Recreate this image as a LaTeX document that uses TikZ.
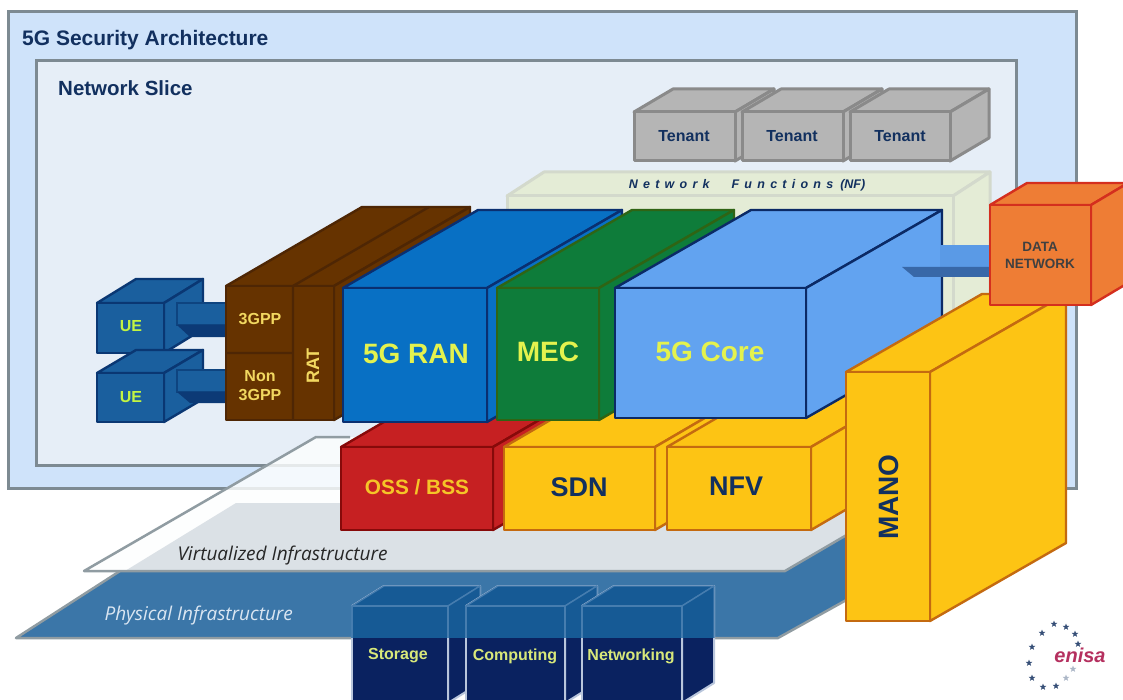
\documentclass[tikz,border=0pt]{standalone}
\usepackage{fontspec}
\setmainfont{Liberation Sans}
\newfontfamily\infrafont{Open Sans}
\newfontfamily\spacedfont[LetterSpace=42]{Liberation Sans}
\usetikzlibrary{shapes.geometric}
\definecolor{outerblue}{HTML}{CFE3FA}
\definecolor{innerblue}{HTML}{E6EEF7}
\definecolor{framegray}{HTML}{7D8A92}
\definecolor{titlenavy}{HTML}{12305F}
\definecolor{lime}{HTML}{E4F24E}
\definecolor{goldtext}{HTML}{F2D860}
\newcommand{\cuboid}[7]{%
    \draw[#1] (#2,#3) -- ++(#6,#7) -- ++(#4-#2,0) -- (#4,#3) -- cycle;
    \draw[#1] (#4,#3) -- ++(#6,#7) -- ++(0,#5-#3) -- (#4,#5) -- cycle;
    \draw[#1] (#2,#3) rectangle (#4,#5);
}
\tikzset{
    solid box/.style={line width=2.4pt,line join=round},
    uecube/.style={solid box,fill={rgb,255:red,26;green,95;blue,158},draw={rgb,255:red,10;green,55;blue,115}},
    uelink/.style={line width=1.2pt,fill={rgb,255:red,26;green,95;blue,158},draw={rgb,255:red,14;green,68;blue,128}},
    uelinkdark/.style={fill={rgb,255:red,12;green,58;blue,118}},
    ratcube/.style={solid box,fill={rgb,255:red,102;green,51;blue,0},draw={rgb,255:red,78;green,38;blue,4}},
    rancube/.style={solid box,fill={rgb,255:red,8;green,112;blue,196},draw={rgb,255:red,10;green,47;blue,112}},
    meccube/.style={solid box,fill={rgb,255:red,14;green,124;blue,58},draw={rgb,255:red,47;green,100;blue,20}},
    corecube/.style={solid box,fill={rgb,255:red,98;green,163;blue,240},draw={rgb,255:red,11;green,42;blue,102}},
    osscube/.style={solid box,fill={rgb,255:red,198;green,32;blue,34},draw={rgb,255:red,135;green,10;blue,10}},
    yellowcube/.style={solid box,fill={rgb,255:red,253;green,196;blue,20},draw={rgb,255:red,196;green,106;blue,16}},
    tenantcube/.style={solid box,line width=3pt,fill={rgb,255:red,181;green,181;blue,181},draw={rgb,255:red,138;green,138;blue,138}},
    nfcube/.style={solid box,line width=3pt,fill={rgb,255:red,228;green,236;blue,214},draw={rgb,255:red,211;green,217;blue,204}},
    datacube/.style={solid box,fill={rgb,255:red,238;green,125;blue,53},draw={rgb,255:red,212;green,47;blue,30}},
    hwcube/.style={line width=2pt,line join=round,fill={rgb,255:red,10;green,34;blue,96},draw={rgb,255:red,185;green,198;blue,220}},
    hwplane/.style={line width=1.4pt,line join=round,fill={rgb,255:red,22;green,90;blue,149},draw={rgb,255:red,70;green,125;blue,175}},
    hwlabel/.style={font=\bfseries\fontsize{16}{18}\selectfont,text={rgb,255:red,216;green,232;blue,122}},
    bigtext/.style={font=\bfseries\fontsize{28}{30}\selectfont,text=lime},
    darktext/.style={font=\bfseries\fontsize{27}{29}\selectfont,text=titlenavy},
    smalltext/.style={font=\bfseries\fontsize{16}{19}\selectfont,text=goldtext,align=center},
    uetext/.style={font=\bfseries\fontsize{16}{18}\selectfont,text=lime!85!green},
    tenanttext/.style={font=\bfseries\fontsize{16}{18}\selectfont,text=titlenavy},
    infratext/.style={font=\infrafont\itshape\fontsize{19}{21}\selectfont,anchor=west},
    enistar/.style={star,star points=5,star point ratio=2.4,fill=#1,inner sep=0pt,minimum size=7pt},
    enistar/.default={titlenavy!85}
}
\begin{document}
\begin{tikzpicture}[x=1pt,y=-1pt]
    \clip (0,0) rectangle (1123,700);
    \fill[white] (0,0) rectangle (1123,700);
    \draw[fill=outerblue,draw=framegray,line width=3pt] (8,12) rectangle (1076,488);
    \draw[fill=innerblue,draw=framegray,line width=3pt] (36,61) rectangle (1016,465);
    \node[anchor=west,font=\bfseries\fontsize{21}{23}\selectfont,text=titlenavy,inner sep=0pt] (archtitle) at (22,40) {5G Security Architecture};
    \node[anchor=west,font=\bfseries\fontsize{20.5}{23}\selectfont,text=titlenavy,inner sep=0pt] (slicetitle) at (58,88) {Network Slice};
    \cuboid{tenantcube}{634}{112}{735}{161}{39}{-23}
    \cuboid{tenantcube}{742}{112}{843}{161}{39}{-23}
    \cuboid{tenantcube}{850}{112}{950}{161}{39}{-23}
    \node[tenanttext] (tenanta) at (684,136) {Tenant};
    \node[tenanttext] (tenantb) at (792,136) {Tenant};
    \node[tenanttext] (tenantc) at (900,136) {Tenant};
    \cuboid{nfcube}{507}{196}{953}{440}{37}{-24}
    \node[font=\bfseries\itshape\fontsize{12.5}{14}\selectfont,text=titlenavy,inner sep=0pt] (nflabel) at (747,185) {{\spacedfont\bfseries\itshape Network}\hspace{22pt}{\spacedfont\bfseries\itshape Functions} \ (NF)};
    \fill[fill={rgb,255:red,59;green,118;blue,168}] (16,638) -- (120,571) -- (785,571) -- (850,533) -- (850,598) -- (778,638) -- cycle;
    \draw[draw=framegray!85,line width=2.5pt,line join=round] (850,598) -- (778,638) -- (16,638) -- (120,571);
    \fill[white!92!innerblue,opacity=.82] (84,571) -- (316,437) -- (850,437) -- (850,533) -- (785,571) -- cycle;
    \fill[fill={rgb,255:red,219;green,225;blue,230}] (125,571) -- (236,503) -- (850,503) -- (850,533) -- (785,571) -- cycle;
    \draw[draw=framegray!85,line width=2.5pt,line join=round] (350,437) -- (316,437) -- (84,571) -- (785,571) -- (850,533);
    \node[infratext,text=black!85] (virtlabel) at (174,556) {Virtualized Infrastructure};
    \node[infratext,text={rgb,255:red,218;green,230;blue,242}] (physlabel) at (101,616) {Physical Infrastructure};
    \foreach \xa/\xb in {352/448,466/565,582/682} {
        \cuboid{hwcube}{\xa}{606}{\xb}{703}{32}{-20}
        \begin{scope}
            \clip (340,575) rectangle (730,637);
            \cuboid{hwplane}{\xa}{606}{\xb}{703}{32}{-20}
        \end{scope}
    }
    \node[hwlabel] (storage) at (398,656) {Storage};
    \node[hwlabel] (computing) at (515,656) {Computing};
    \node[hwlabel] (networking) at (631,656) {Networking};
    \cuboid{osscube}{341}{447}{493}{530}{120}{-70}
    \cuboid{yellowcube}{504}{447}{655}{530}{120}{-70}
    \cuboid{yellowcube}{667}{447}{811}{530}{120}{-70}
    \node[font=\bfseries\fontsize{20.8}{23}\selectfont,text={rgb,255:red,245;green,197;blue,40}] (oss) at (417,487) {OSS / BSS};
    \node[darktext] (sdn) at (579,487) {SDN};
    \node[darktext] (nfv) at (736,486) {NFV};
    \cuboid{uecube}{97}{303}{164}{353}{39}{-24}
    \draw[uelink] (226,303) -- (177,303) -- (177,325) -- (226,325);
    \fill[uelinkdark] (177,325) -- (226,325) -- (226,337) -- (190,337) -- cycle;
    \cuboid{uecube}{97}{373}{164}{422}{39}{-23}
    \draw[uelink] (226,370) -- (177,370) -- (177,392) -- (226,392);
    \fill[uelinkdark] (177,392) -- (226,392) -- (226,403) -- (190,403) -- cycle;
    \node[uetext] (uea) at (131,326) {UE};
    \node[uetext] (ueb) at (131,397) {UE};
    \cuboid{ratcube}{226}{286}{334}{420}{136}{-79}
    \draw[ratcube,fill=none] (293,286) -- ++(136,-79) (293,286) -- (293,420) (226,353) -- (293,353);
    \node[smalltext] (threegpp) at (260,319) {3GPP};
    \node[smalltext] (nonthree) at (260,386) {Non\\3GPP};
    \node[smalltext,font=\bfseries\fontsize{18}{20}\selectfont,rotate=90] (rat) at (313,366) {RAT};
    \cuboid{rancube}{343}{288}{487}{422}{135}{-78}
    \cuboid{meccube}{497}{288}{599}{420}{135}{-78}
    \cuboid{corecube}{615}{288}{806}{418}{136}{-78}
    \node[bigtext] (ran) at (416,354) {5G RAN};
    \node[bigtext] (mec) at (548,352) {MEC};
    \node[bigtext] (core) at (710,352) {5G Core};
    \fill[fill={rgb,255:red,90;green,154;blue,230}] (940,245) -- (990,245) -- (990,267) -- (940,267) -- cycle;
    \fill[fill={rgb,255:red,56;green,104;blue,168}] (902,267) -- (990,267) -- (990,277) -- (914,277) -- cycle;
    \cuboid{yellowcube}{846}{372}{930}{621}{136}{-78}
    \node[darktext,font=\bfseries\fontsize{28}{30}\selectfont,rotate=90] (mano) at (889,497) {MANO};
    \cuboid{datacube}{990}{205}{1091}{305}{37}{-22}
    \node[font=\bfseries\fontsize{13.5}{17}\selectfont,align=center,text=black!75] (datanet) at (1040,255) {DATA\\NETWORK};
    \foreach \sx/\sy [count=\i] in {1054/624,1066/627,1075/634,1078/644,1042/633,1032/647,1029/663,1032/678,1043/687,1056/686}
        \node[enistar] (star\i) at (\sx,\sy) {};
    \foreach \sx/\sy [count=\i] in {1066/678,1073/669}
        \node[enistar=titlenavy!35] (palestar\i) at (\sx,\sy) {};
    \node[font=\bfseries\itshape\fontsize{20}{22}\selectfont,text={rgb,255:red,181;green,48;blue,95}] (enisa) at (1080,655) {enisa};
\end{tikzpicture}
\end{document}
